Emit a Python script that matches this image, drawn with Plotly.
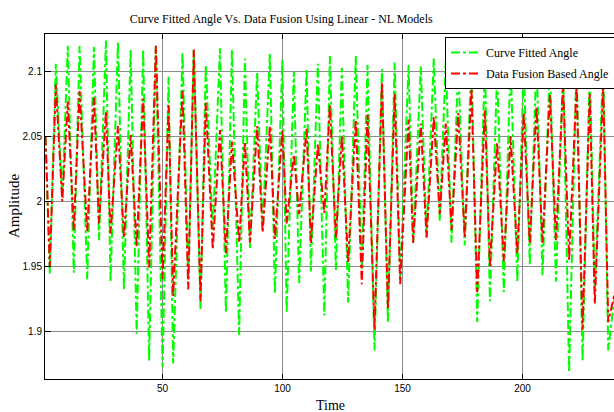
import plotly.graph_objects as go

# Turning points (time, value)
time_pts = [1.2, 3.0, 5.5, 8.2, 10.5, 13.0, 15.4, 18.6, 21.4, 23.5, 26.4, 28.3, 31.4, 33.9, 36.7, 39.2,
            41.9, 44.4, 47.2, 50.0, 52.5, 54.4, 58.3, 60.7, 63.0, 65.8, 68.0, 70.9, 73.9, 76.4, 78.9,
            81.9, 84.3, 86.4, 89.4, 91.7, 94.7, 96.8, 99.9, 101.7, 104.7, 106.9, 110.0, 111.8, 114.7,
            117.4, 119.7, 122.2, 124.7, 127.3, 130.5, 133.0, 135.4, 138.3, 141.4, 143.9, 146.7, 149.0,
            152.5, 154.4, 157.6, 160.0, 163.0, 165.5, 168.0, 170.4, 173.2, 175.9, 178.7, 181.1, 184.3,
            186.4, 189.4, 192.2, 195.0, 197.8, 200.5, 203.0, 205.8, 208.3, 211.4, 213.9, 216.9, 219.4,
            222.5, 225.0, 228.0, 230.1, 233.6, 235.7, 238.5]

curve_fitted = [2.050, 1.944, 2.106, 2.003, 2.120, 1.945, 2.120, 1.940, 2.119, 1.970, 2.124, 1.938,
                2.123, 1.932, 2.117, 1.898, 2.117, 1.877, 2.120, 1.872, 2.096, 1.875, 2.115, 1.940,
                2.117, 1.917, 2.105, 1.978, 2.118, 1.914, 2.117, 1.897, 2.110, 1.964, 2.099, 1.978,
                2.114, 1.929, 2.109, 1.914, 2.100, 1.937, 2.102, 1.946, 2.106, 1.912, 2.112, 1.947,
                2.103, 1.922, 2.112, 1.947, 2.105, 1.885, 2.102, 1.906, 2.107, 1.940, 2.105, 1.968,
                2.104, 1.972, 2.110, 1.985, 2.108, 1.968, 2.104, 1.966, 2.110, 1.907, 2.106, 1.923,
                2.100, 1.930, 2.108, 1.938, 2.104, 1.951, 2.110, 1.943, 2.106, 1.938, 2.102, 1.868,
                2.108, 1.877, 2.104, 1.930, 2.106, 1.885, 1.930]

data_fusion = [2.050, 1.950, 2.090, 2.000, 2.077, 1.978, 2.085, 1.977, 2.080, 1.983, 2.069, 1.975,
               2.058, 1.972, 2.051, 1.965, 2.079, 1.949, 2.120, 1.940, 2.074, 1.927, 2.085, 1.932,
               2.117, 1.923, 2.076, 1.963, 2.055, 1.960, 2.046, 1.968, 2.046, 1.968, 2.058, 1.976,
               2.058, 1.971, 2.055, 1.983, 2.036, 1.990, 2.056, 1.968, 2.044, 1.991, 2.074, 1.972,
               2.050, 1.953, 2.063, 1.936, 2.067, 1.901, 2.092, 1.917, 2.083, 1.936, 2.063, 1.968,
               2.060, 1.972, 2.065, 1.990, 2.060, 1.978, 2.068, 1.972, 2.087, 1.930, 2.070, 1.950,
               2.045, 1.954, 2.050, 1.960, 2.068, 1.967, 2.073, 1.968, 2.082, 1.970, 2.090, 1.955,
               2.090, 1.901, 2.083, 1.921, 2.090, 1.907, 1.930]

series_names = ["Curve Fitted Angle", "Data Fusion Based Angle"]
x_ticks = [50, 100, 150, 200]
y_ticks = [1.9, 1.95, 2.0, 2.05, 2.1]
y_tick_text = ["1.9", "1.95", "2", "2.05", "2.1"]

serif = "Liberation Serif, Times New Roman, serif"
sans = "Liberation Sans, Arial, sans-serif"

fig = go.Figure()
fig.add_trace(go.Scatter(x=time_pts, y=curve_fitted, mode="lines", name=series_names[0],
                         line=dict(color="#00ff00", width=2, dash="dashdot"), legendgroup="a"))
fig.add_trace(go.Scatter(x=time_pts, y=data_fusion, mode="lines", name=series_names[1],
                         line=dict(color="#ff0000", width=2, dash="dashdot"), legendgroup="b"))

fig.update_layout(
    width=614, height=412,
    margin=dict(l=45, r=0, t=34, b=33, autoexpand=False),
    paper_bgcolor="white", plot_bgcolor="white",
    title=dict(text="Curve Fitted Angle Vs. Data Fusion Using Linear - NL Models",
               x=0.458, xanchor="center", y=0.955, yanchor="middle",
               font=dict(family=serif, size=12, color="black")),
    showlegend=True,
    legend=dict(x=0.703, xanchor="left", y=0.991, yanchor="top",
                bgcolor="white", bordercolor="black", borderwidth=1,
                font=dict(family=serif, size=12, color="black"),
                tracegroupgap=2),
    xaxis=dict(range=[1, 238.1], tickvals=x_ticks, ticks="inside", ticklen=5,
               tickcolor="black", showline=True, linecolor="black", linewidth=1,
               mirror="ticks", showgrid=True, gridcolor="#8c8c8c", gridwidth=1,
               zeroline=False, tickfont=dict(family=sans, size=10, color="black")),
    yaxis=dict(range=[1.863, 2.129], tickvals=y_ticks, ticktext=y_tick_text,
               ticks="inside", ticklen=6, tickcolor="black", showline=True,
               linecolor="black", linewidth=1, mirror=False, showgrid=True,
               gridcolor="#8c8c8c", gridwidth=1, zeroline=False,
               tickfont=dict(family=sans, size=10, color="black")),
    annotations=[
        dict(text="Time", xref="paper", yref="paper", x=0.501, y=-0.076,
             xanchor="center", yanchor="middle", showarrow=False,
             font=dict(family=serif, size=14, color="black")),
        dict(text="Amplitude", xref="paper", yref="paper", x=-0.0545, y=0.504,
             xanchor="center", yanchor="middle", showarrow=False, textangle=-90,
             font=dict(family=serif, size=15, color="black")),
    ],
)

fig.write_html("out.html")
